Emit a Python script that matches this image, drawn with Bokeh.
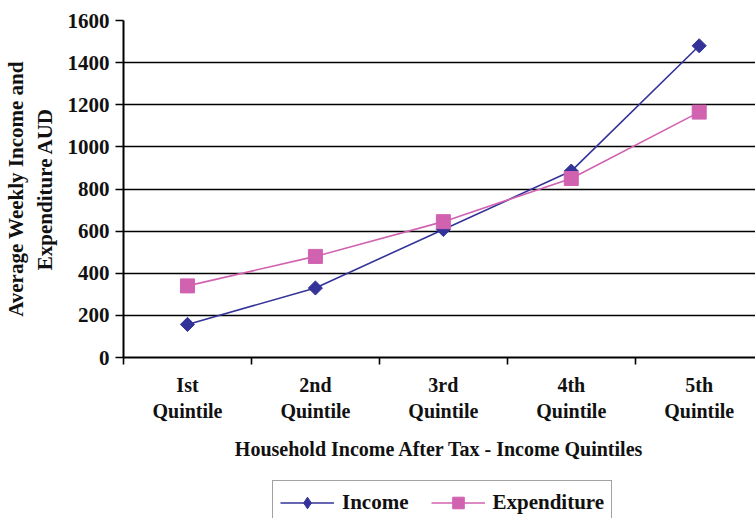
import math
from bokeh.plotting import figure
from bokeh.layouts import column
from bokeh.models import Range1d, FixedTicker, Legend, LegendItem
from bokeh.embed import file_html
from bokeh.resources import INLINE

categories = ["Ist\nQuintile", "2nd\nQuintile", "3rd\nQuintile", "4th\nQuintile", "5th\nQuintile"]
income = [157, 330, 608, 885, 1480]
expenditure = [340, 480, 645, 850, 1165]
y_ticks = [0, 200, 400, 600, 800, 1000, 1200, 1400, 1600]
series_names = ["Income", "Expenditure"]

FONT = "Liberation Serif"
INC_COLOR = "#333399"
EXP_COLOR = "#D162B0"

xs = list(range(len(categories)))

p = figure(width=755, height=470, output_backend="svg", toolbar_location=None,
           x_range=Range1d(-0.5, 4.44), y_range=Range1d(0, 1600),
           min_border_left=123, min_border_right=0, min_border_top=20, min_border_bottom=113)
p.outline_line_color = None
p.background_fill_color = "white"
p.border_fill_color = "white"

# grids
p.xgrid.grid_line_color = None
p.ygrid.grid_line_color = "black"
p.ygrid.grid_line_width = 1.6
p.ygrid.ticker = FixedTicker(ticks=y_ticks)

# y axis
p.yaxis.ticker = FixedTicker(ticks=y_ticks)
p.yaxis.axis_line_color = "black"
p.yaxis.axis_line_width = 2
p.yaxis.major_tick_line_color = "black"
p.yaxis.major_tick_line_width = 1.6
p.yaxis.major_tick_out = 8
p.yaxis.major_tick_in = 0
p.yaxis.minor_tick_line_color = None
p.yaxis.major_label_text_font = FONT
p.yaxis.major_label_text_font_style = "bold"
p.yaxis.major_label_text_font_size = "21px"
p.yaxis.major_label_text_color = "#111111"
p.yaxis.major_label_standoff = 6
p.yaxis.axis_label = "Average Weekly Income and\nExpenditure AUD"
p.yaxis.axis_label_text_font = FONT
p.yaxis.axis_label_text_font_style = "bold"
p.yaxis.axis_label_text_font_size = "21px"
p.yaxis.axis_label_text_color = "#111111"
p.yaxis.axis_label_standoff = 8

# x axis
p.xaxis.ticker = FixedTicker(ticks=xs, minor_ticks=[-0.5, 0.5, 1.5, 2.5, 3.5, 4.5])
p.xaxis.major_label_overrides = {i: c for i, c in zip(xs, categories)}
p.xaxis.axis_line_color = "black"
p.xaxis.axis_line_width = 2
p.xaxis.major_tick_out = 0
p.xaxis.major_tick_in = 0
p.xaxis.major_tick_line_color = None
p.xaxis.minor_tick_line_color = "black"
p.xaxis.minor_tick_line_width = 1.6
p.xaxis.minor_tick_out = 7
p.xaxis.minor_tick_in = 0
p.xaxis.major_label_text_font = FONT
p.xaxis.major_label_text_font_style = "bold"
p.xaxis.major_label_text_font_size = "20px"
p.xaxis.major_label_text_color = "#111111"
p.xaxis.major_label_standoff = 9
p.xaxis.axis_label = "Household Income After Tax - Income Quintiles"
p.xaxis.axis_label_text_font = FONT
p.xaxis.axis_label_text_font_style = "bold"
p.xaxis.axis_label_text_font_size = "20px"
p.xaxis.axis_label_text_color = "#111111"
p.xaxis.axis_label_standoff = 13

# series
p.line(xs, income, line_color=INC_COLOR, line_width=1.6)
p.scatter(xs, income, marker="square", angle=math.pi / 4, size=10,
          fill_color=INC_COLOR, line_color=INC_COLOR)
p.line(xs, expenditure, line_color=EXP_COLOR, line_width=1.6)
p.scatter(xs, expenditure, marker="square", size=14,
          fill_color=EXP_COLOR, line_color=EXP_COLOR)

# legend strip (separate figure so the box is not clipped by the plot frame);
# its series renderers lie outside this strip's ranges, so only legend glyphs show
lg = figure(width=755, height=48, output_backend="svg", toolbar_location=None,
            x_range=Range1d(-100, -99), y_range=Range1d(-100, -99),
            min_border_left=0, min_border_right=0, min_border_top=0, min_border_bottom=0)
lg.axis.visible = False
lg.grid.visible = False
lg.outline_line_color = None
li1 = lg.line(xs, income, line_color=INC_COLOR, line_width=1.6)
lm1 = lg.scatter(xs, income, marker="diamond", size=14,
                 fill_color=INC_COLOR, line_color=INC_COLOR)
li2 = lg.line(xs, expenditure, line_color=EXP_COLOR, line_width=1.6)
lm2 = lg.scatter(xs, expenditure, marker="square", size=14,
                 fill_color=EXP_COLOR, line_color=EXP_COLOR)

legend = Legend(items=[
    LegendItem(label=series_names[0], renderers=[li1, lm1]),
    LegendItem(label=series_names[1], renderers=[li2, lm2]),
], orientation="horizontal", location=(149, -7))
legend.label_text_font = FONT
legend.label_text_font_style = "bold"
legend.label_text_font_size = "21px"
legend.label_text_color = "#111111"
legend.label_standoff = 8
legend.glyph_width = 54
legend.glyph_height = 29
legend.spacing = 22
legend.padding = 7
legend.margin = 0
legend.border_line_color = "#444444"
legend.border_line_width = 1.5
legend.background_fill_alpha = 1
lg.add_layout(legend, "center")

layout = column(p, lg, spacing=0)
open("out.html", "w").write(file_html(layout, INLINE))
